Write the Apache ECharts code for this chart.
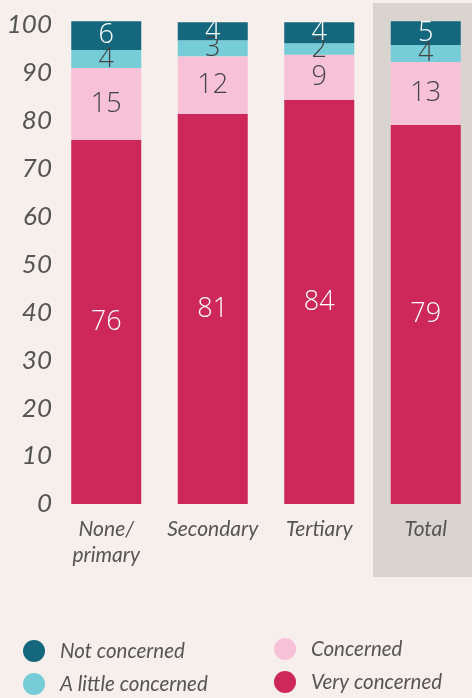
<!DOCTYPE html>
<html><head><meta charset="utf-8">
<script src="https://cdn.jsdelivr.net/npm/echarts@6/dist/echarts.min.js"></script>
<style>html,body{margin:0;padding:0;background:#f6efeb;}#c{width:472px;height:698px;}</style>
</head><body><div id="c"></div>
<script>
const categories = ['None/\nprimary', 'Secondary', 'Tertiary', 'Total'];
const veryConcerned = [76.0, 81.4, 84.4, 79.1];
const concerned = [15.0, 12.1, 9.4, 13.2];
const littleConcerned = [3.8, 3.3, 2.4, 3.5];
const notConcerned = [6.0, 3.8, 4.4, 5.0];
const yTicks = [0, 10, 20, 30, 40, 50, 60, 70, 80, 90, 100];

const chart = echarts.init(document.getElementById('c'));
const labelFont = {fontFamily: 'Open Sans', fontWeight: 300, fontSize: 27};
function mk(name, data, color, labelColor) {
  return {
    name: name, type: 'bar', stack: 'a', data: data, barWidth: 70, clip: false,
    itemStyle: {color: color},
    labelLayout: {hideOverlap: false},
    label: Object.assign({show: true, position: 'inside', color: labelColor,
      formatter: p => Math.round(p.value)}, labelFont)
  };
}
const legTxt = {color: '#555', fontFamily: 'Lato', fontStyle: 'italic', fontSize: 20.5, padding: [0, 0, 0, 10]};
function leg(name, left, top) {
  return {left: left, top: top, itemWidth: 22, itemHeight: 22, icon: 'circle',
    data: [name], textStyle: legTxt, padding: 0};
}
chart.setOption({
  backgroundColor: '#f6efeb',
  animation: false,
  graphic: [{type: 'rect', z: -10, shape: {x: 373, y: 3, width: 99, height: 574}, style: {fill: '#d9d4d0'}}],
  grid: {left: 53, width: 426, top: 25, bottom: 194, containLabel: false, outerBoundsMode: 'none'},
  xAxis: {type: 'category', data: categories,
    axisLine: {show: false}, axisTick: {show: false},
    axisLabel: {interval: 0, margin: 12, color: '#555', fontFamily: 'Lato', fontStyle: 'italic', fontSize: 21, lineHeight: 26}},
  yAxis: {type: 'value', min: 0, max: 100, interval: 10,
    splitLine: {show: false}, axisLine: {show: false}, axisTick: {show: false},
    axisLabel: {margin: 1, color: '#555', fontFamily: 'Lato', fontStyle: 'italic', fontSize: 26,
      customValues: yTicks}},
  legend: [
    leg('Not concerned', 23, 640),
    leg('A little concerned', 23, 673),
    leg('Concerned', 274, 638),
    leg('Very concerned', 274, 671)
  ],
  series: [
    mk('Very concerned', veryConcerned, '#cd2859', '#ffffff'),
    mk('Concerned', concerned, '#f7c1d8', '#444444'),
    mk('A little concerned', littleConcerned, '#76cdd8', '#444444'),
    mk('Not concerned', notConcerned, '#15677e', '#ffffff')
  ]
});
</script></body></html>
